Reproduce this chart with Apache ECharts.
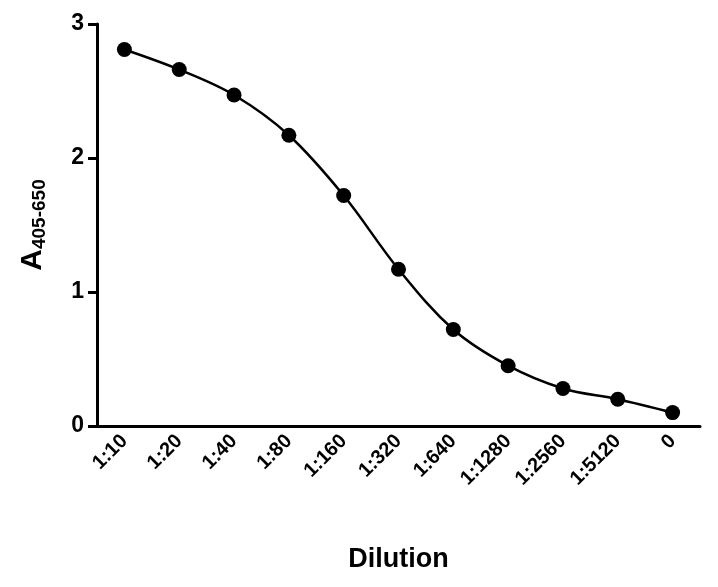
<!DOCTYPE html>
<html><head><meta charset="utf-8">
<script src="https://cdn.jsdelivr.net/npm/echarts@6/dist/echarts.min.js"></script>
<style>html,body{margin:0;padding:0;background:#fff}#c{width:718px;height:587px}</style>
</head><body><div id="c"></div>
<script>
const categories = ['1:10','1:20','1:40','1:80','1:160','1:320','1:640','1:1280','1:2560','1:5120','0'];
const absorbance = [2.81,2.66,2.47,2.17,1.72,1.17,0.72,0.45,0.28,0.20,0.10];
const yTicks = [0,1,2,3];
const chart = echarts.init(document.getElementById('c'));
chart.setOption({
  animation:false,
  grid:{left:97,right:18,top:24,bottom:161,containLabel:false},
  xAxis:{type:'category',data:categories,boundaryGap:true,
    name:'Dilution',nameLocation:'middle',nameGap:120,
    nameTextStyle:{fontFamily:'Liberation Sans',fontWeight:'bold',fontSize:27,color:'#000'},
    axisLine:{lineStyle:{color:'#000',width:3}},
    axisTick:{alignWithLabel:true,length:9,lineStyle:{color:'#000',width:3}},
    axisLabel:{rotate:45,fontFamily:'Liberation Sans',fontWeight:'bold',fontSize:20,color:'#000',margin:12}},
  yAxis:{type:'value',min:yTicks[0],max:yTicks[yTicks.length-1],interval:1,
    name:'{a|A}{s|405-650}',nameLocation:'middle',nameGap:48,nameRotate:90,
    nameTextStyle:{rich:{a:{fontFamily:'Liberation Sans',fontWeight:'bold',fontSize:30,color:'#000'},
      s:{fontFamily:'Liberation Sans',fontWeight:'bold',fontSize:19,color:'#000',padding:[14,0,0,0]}}},
    axisLine:{show:true,lineStyle:{color:'#000',width:3}},
    axisTick:{show:true,length:9,lineStyle:{color:'#000',width:3}},
    splitLine:{show:false},
    axisLabel:{fontFamily:'Liberation Sans',fontWeight:'bold',fontSize:23,color:'#000',margin:13}},
  series:[{type:'line',data:absorbance,smooth:0.35,symbol:'circle',symbolSize:15,
    itemStyle:{color:'#000'},lineStyle:{color:'#000',width:2.5}}]
});
</script></body></html>
